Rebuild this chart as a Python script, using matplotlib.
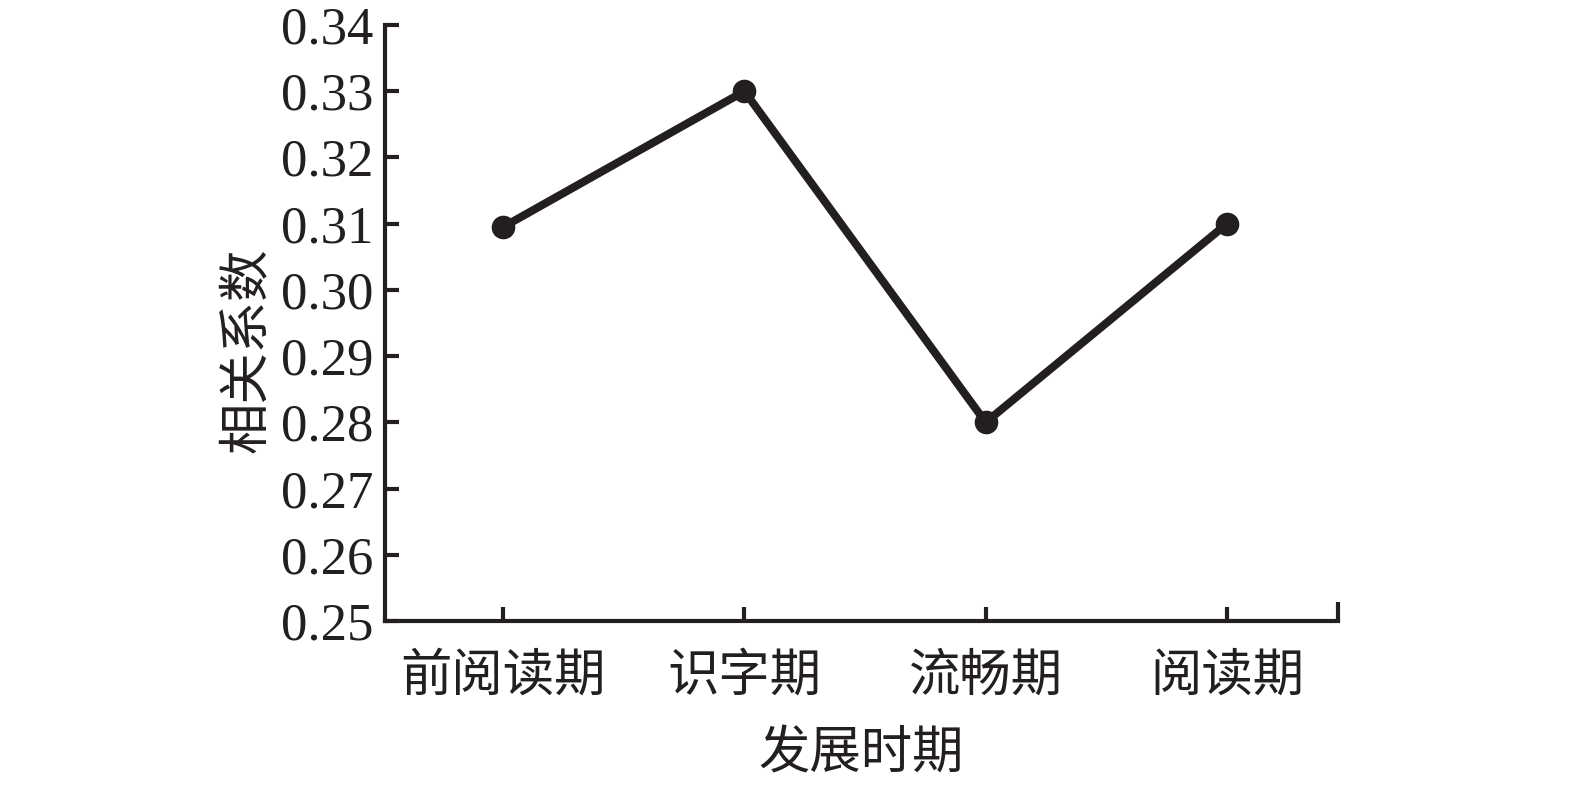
import matplotlib
matplotlib.use("Agg")
import matplotlib.pyplot as plt
from matplotlib.ticker import FixedLocator

plt.rcParams['font.family'] = ['Liberation Serif', 'Noto Sans CJK SC']

categories = ["前阅读期", "识字期", "流畅期", "阅读期"]
values = [0.3095, 0.330, 0.280, 0.310]
yticks = [0.25, 0.26, 0.27, 0.28, 0.29, 0.30, 0.31, 0.32, 0.33, 0.34]
xlabel = "发展时期"
ylabel = "相关系数"

col = "#231f20"
fig = plt.figure(figsize=(15.75, 7.87), dpi=100)
ax = fig.add_axes([0.2444, 0.2109, 0.6051, 0.7573])
x = list(range(len(categories)))
ax.plot(x, values, color=col, lw=5.8, marker='o', markersize=16, solid_joinstyle='miter')
ax.set_xlim(-0.49, 3.46)
ax.set_ylim(yticks[0], yticks[-1])
ax.set_yticks(yticks)
ax.set_yticklabels([f"{v:.2f}" for v in yticks], fontsize=38, family='Liberation Serif')
ax.set_xticks(x)
ax.set_xticklabels(categories, fontsize=37, family='Noto Sans CJK SC')
ax.xaxis.set_minor_locator(FixedLocator([3.46]))
ax.tick_params(which='minor', axis='x', direction='in', length=14, width=3, color=col)
ax.tick_params(axis='both', which='major', direction='in', length=10, width=3, color=col, labelcolor=col)
ax.tick_params(axis='y', pad=8)
ax.tick_params(axis='x', pad=20)
for s in ['top', 'right']:
    ax.spines[s].set_visible(False)
for s in ['left', 'bottom']:
    ax.spines[s].set_linewidth(3)
    ax.spines[s].set_color(col)
ax.set_xlabel(xlabel, fontsize=37, family='Noto Sans CJK SC', color=col, labelpad=18)
ax.set_ylabel(ylabel, fontsize=37, family='Noto Sans CJK SC', color=col)
ax.yaxis.set_label_coords(-0.118, 0.455)
fig.savefig("out.png", dpi=100)
